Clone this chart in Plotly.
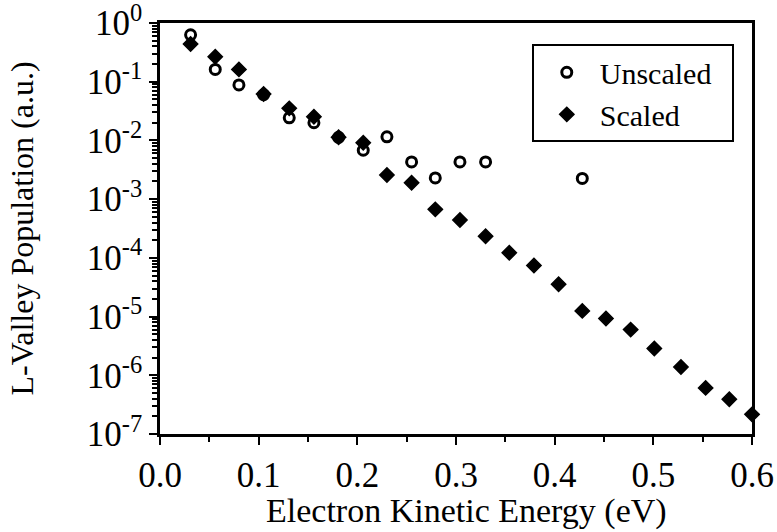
import plotly.graph_objects as go

# ---- data ----
energy = [0.031, 0.056, 0.080, 0.105, 0.131, 0.156, 0.181, 0.206, 0.230, 0.255,
          0.279, 0.304, 0.330, 0.354, 0.379, 0.404, 0.428, 0.452, 0.477, 0.501,
          0.528, 0.553, 0.577, 0.600]
scaled = [0.44, 0.267, 0.162, 0.0617, 0.0352, 0.0253, 0.0113, 0.0091, 0.00257, 0.0019,
          6.7e-4, 4.4e-4, 2.34e-4, 1.22e-4, 7.4e-5, 3.56e-5, 1.25e-5, 9.3e-6, 6.0e-6,
          2.85e-6, 1.38e-6, 6.1e-7, 3.9e-7, 2.16e-7]
unscaled_energy = [0.031, 0.056, 0.080, 0.105, 0.131, 0.156, 0.181, 0.206, 0.230,
                   0.255, 0.279, 0.304, 0.330, 0.428]
unscaled = [0.63, 0.162, 0.088, 0.060, 0.0243, 0.020, 0.0113, 0.0068, 0.0115,
            0.0043, 0.0023, 0.0043, 0.0043, 0.00225]

decades = [0, -1, -2, -3, -4, -5, -6, -7]
y_tickvals = [10.0 ** d for d in decades]
y_ticktext = ["10<sup>%d</sup>" % d for d in decades]
y_minor = [k * 10.0 ** d for d in range(-7, 0) for k in range(2, 10)]

X_TITLE = "Electron Kinetic Energy (eV)"
Y_TITLE = "L-Valley Population (a.u.)"

FONT = "Liberation Serif, Times New Roman, serif"
NB = "\u00a0"

fig = go.Figure()
fig.add_trace(go.Scatter(
    x=unscaled_energy, y=unscaled, mode="markers", name="Unscaled" + NB * 2,
    marker=dict(symbol="circle", size=10, color="white",
                line=dict(width=3, color="black")),
    cliponaxis=False,
))
fig.add_trace(go.Scatter(
    x=energy, y=scaled, mode="markers", name="Scaled",
    marker=dict(symbol="diamond", size=11, color="black",
                line=dict(width=1.5, color="black")),
    cliponaxis=False,
))

axis_common = dict(
    showline=True, linecolor="black", linewidth=2.5, mirror=True,
    showgrid=False, zeroline=False, automargin=False,
    ticks="outside", tickcolor="black", tickwidth=2, ticklen=8,
    tickfont=dict(family=FONT, size=35, color="black"),
    ticklabeloverflow="allow",
)

fig.update_layout(
    template="none",
    width=777, height=532,
    margin=dict(l=160, r=25, t=23, b=98, autoexpand=False),
    paper_bgcolor="white", plot_bgcolor="white",
    font=dict(family=FONT, size=32, color="black"),
    showlegend=True,
    legend=dict(
        x=0.628, y=0.948, xanchor="left", yanchor="top",
        bgcolor="white", bordercolor="black", borderwidth=2,
        font=dict(family=FONT, size=30, color="black"),
        itemwidth=56,
    ),
    annotations=[dict(
        text=X_TITLE, xref="paper", yref="paper", x=0.518, y=-0.187,
        xanchor="center", yanchor="middle", showarrow=False,
        font=dict(family=FONT, size=34, color="black"),
    )],
)
fig.update_xaxes(
    **axis_common,
    range=[0, 0.6], tickmode="linear", tick0=0, dtick=0.1, tickformat=".1f",
    minor=dict(tickmode="linear", tick0=0, dtick=0.05, ticks="outside",
               ticklen=5, tickwidth=2, tickcolor="black", showgrid=False),
)
fig.update_yaxes(
    **axis_common,
    type="log", range=[-7, 0],
    tickmode="array", tickvals=y_tickvals, ticktext=y_ticktext,
    minor=dict(tickmode="array", tickvals=y_minor, ticks="outside",
               ticklen=5, tickwidth=2, tickcolor="black", showgrid=False),
    title=dict(text=Y_TITLE,
               font=dict(family=FONT, size=32, color="black"), standoff=44),
)

fig.write_html("out.html")
